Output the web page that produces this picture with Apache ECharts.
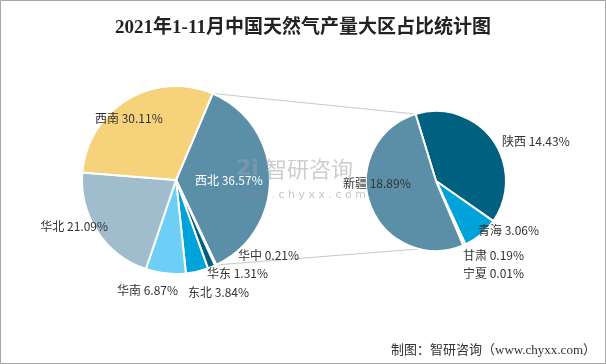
<!DOCTYPE html>
<html><head><meta charset="utf-8">
<script src="https://cdn.jsdelivr.net/npm/echarts@6/dist/echarts.min.js"></script>
<style>html,body{margin:0;padding:0;background:#fff}#c{width:606px;height:364px}</style>
</head><body><div id="c"></div>
<script>
// ---- data ----
var title = '2021年1-11月中国天然气产量大区占比统计图';
var source = '制图：智研咨询（www.chyxx.com）';
var regionNames = ['西北', '华中', '华东', '东北', '华南', '华北', '西南'];
var regionValues = [36.57, 0.21, 1.31, 3.84, 6.87, 21.09, 30.11];
var provNames = ['陕西', '青海', '甘肃', '宁夏', '新疆'];
var provValues = [14.43, 3.06, 0.19, 0.01, 18.89];

// ---- style / layout ----
var regionColors = ['#5b8fa8', '#003f5c', '#00607f', '#00a3d9', '#6dcff6', '#9fbdcc', '#f6d37b'];
var provColors = ['#00607f', '#00a3d9', '#5b8fa8', '#9fbdcc', '#5b8fa8'];
var L = {cx: 176, cy: 180, r: 94, start: 67};
var R = {cx: 436, cy: 181, r: 70, start: 107};
// label anchors relative to each pie centre: [dx, dy, align]
var leftLabelPos = [[19, 0, 'left'], [62, 75, 'left'], [31, 93, 'left'], [12, 112, 'left'], [-59, 110, 'left'], [-68, 46, 'right'], [-81, -62, 'left']];
var rightLabelPos = [[66, -40, 'left'], [42, 49, 'left'], [27, 74, 'left'], [27, 92, 'left'], [-93, 2, 'left']];

function fmt(v) { return v.toFixed(2) + '%'; }
function sum(a) { return a.reduce(function (s, v) { return s + v; }, 0); }
// point on pie edge at cumulative fraction f, for a pie starting at startAngle going clockwise
function edgePoint(p, f) {
  var a = (p.start - f * 360) * Math.PI / 180;
  return [p.cx + p.r * Math.cos(a), p.cy - p.r * Math.sin(a)];
}
var tL = sum(regionValues), tR = sum(provValues);
var lTop = edgePoint(L, 0), lBot = edgePoint(L, regionValues[0] / tL);
var rTop = edgePoint(R, 0), rBot = edgePoint(R, (tR - provValues[4]) / tR);

function makeData(names, vals, colors, labelColorFirst) {
  return names.map(function (n, i) {
    var d = {name: n, value: vals[i], itemStyle: {color: colors[i]}};
    if (labelColorFirst && i === 0) d.label = {color: '#fff'};
    return d;
  });
}
function layoutFn(p, pos) {
  return function (params) {
    var q = pos[params.dataIndex];
    return {x: p.cx + q[0], y: p.cy + q[1], align: q[2], verticalAlign: 'middle'};
  };
}
var labelFont = {fontSize: 12, color: '#333', fontFamily: 'Noto Sans CJK SC, sans-serif',
  formatter: function (p) { return p.name + ' ' + fmt(p.value); }};

var chart = echarts.init(document.getElementById('c'), null, {renderer: 'canvas'});
chart.setOption({
  animation: false,
  backgroundColor: '#fff',
  title: {text: title, left: 'center', top: 14,
    textStyle: {fontSize: 19, fontWeight: 'bold', color: '#222', fontFamily: 'Liberation Serif, Noto Sans CJK SC, serif'}},
  graphic: [
    {type: 'rect', shape: {x: 0.5, y: 0.5, width: 605, height: 363}, style: {fill: 'none', stroke: '#a6a6a6', lineWidth: 1}, z: 100},
    {type: 'line', shape: {x1: lTop[0], y1: lTop[1], x2: rTop[0], y2: rTop[1]}, style: {stroke: '#c8c8c8', lineWidth: 1}, z: 1},
    {type: 'line', shape: {x1: lBot[0], y1: lBot[1], x2: rBot[0], y2: rBot[1]}, style: {stroke: '#c8c8c8', lineWidth: 1}, z: 1},
    {type: 'text', left: 236, top: 158, style: {text: '2i', fontSize: 22, fontWeight: 'bold', fill: 'rgba(150,160,175,0.5)', fontFamily: 'DejaVu Sans'}, z: 50},
    {type: 'text', left: 265, top: 158, style: {text: '智研咨询', fontSize: 22, fill: 'rgba(160,165,170,0.55)', fontFamily: 'Noto Sans CJK SC'}, z: 50},
    {type: 'text', left: 234, top: 190, style: {text: 'w w w . c h y x x . c o m', fontSize: 11, fill: 'rgba(120,130,140,0.45)', fontFamily: 'DejaVu Sans'}, z: 50},
    {type: 'text', right: 10, top: 344, style: {text: source, fontSize: 13, fill: '#333', fontFamily: 'Liberation Serif, Noto Sans CJK SC, serif'}, z: 50}
  ],
  series: [
    {type: 'pie', center: [L.cx, L.cy], radius: [0, L.r], startAngle: L.start, clockwise: true,
      avoidLabelOverlap: false, minAngle: 0,
      itemStyle: {borderColor: '#fff', borderWidth: 2},
      label: Object.assign({show: true, position: 'outside'}, labelFont),
      labelLine: {show: false},
      labelLayout: layoutFn(L, leftLabelPos),
      emphasis: {disabled: true},
      data: makeData(regionNames, regionValues, regionColors, true)},
    {type: 'pie', center: [R.cx, R.cy], radius: [0, R.r], startAngle: R.start, clockwise: true,
      avoidLabelOverlap: false, minAngle: 0,
      itemStyle: {borderColor: '#fff', borderWidth: 2},
      label: Object.assign({show: true, position: 'outside'}, labelFont),
      labelLine: {show: false},
      labelLayout: layoutFn(R, rightLabelPos),
      emphasis: {disabled: true},
      data: makeData(provNames, provValues, provColors, false)}
  ]
});
</script></body></html>
